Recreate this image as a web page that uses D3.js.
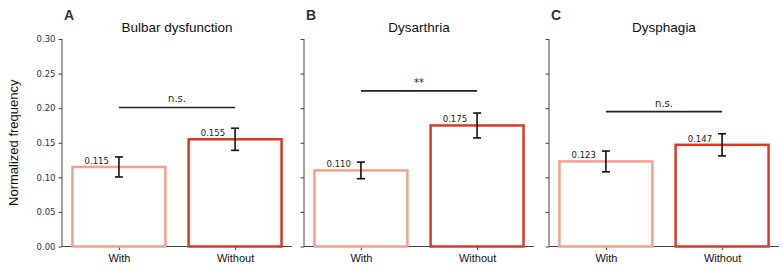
<!DOCTYPE html>
<html>
<head>
<meta charset="utf-8">
<script src="https://cdn.jsdelivr.net/npm/d3@7"></script>
<style>
  body { margin: 0; background: #fff; }
  svg { display: block; }
</style>
</head>
<body>
<div id="chart"></div>
<script>
// ---- data ----
const panels = ["A", "B", "C"];
const titles = ["Bulbar dysfunction", "Dysarthria", "Dysphagia"];
const groups = ["With", "Without"];
const means = [[0.115, 0.155], [0.110, 0.175], [0.123, 0.147]];
const errors = [[0.0145, 0.016], [0.012, 0.018], [0.015, 0.016]];
const sigLabels = ["n.s.", "**", "n.s."];
const sigLevels = [0.201, 0.225, 0.195];
const yTicks = [0, 0.05, 0.10, 0.15, 0.20, 0.25, 0.30];

const width = 783, height = 271;
const panelLeft = [62, 304, 549];
const panelWidth = 230;
const plotTop = 39, plotBottom = 246.5;
const colors = ["#f4a08e", "#d93a25"];
const axisColor = "#444";

const svg = d3.select("#chart").append("svg")
  .attr("width", width).attr("height", height);

const y = d3.scaleLinear().domain([0, 0.3]).range([plotBottom, plotTop]);

// shared y label
svg.append("text")
  .attr("transform", `translate(18,${(plotTop + plotBottom) / 2}) rotate(-90)`)
  .attr("text-anchor", "middle")
  .attr("font-family", "Liberation Sans, Arial, sans-serif")
  .attr("font-size", "13px")
  .attr("fill", "#111")
  .text("Normalized frequency");

panels.forEach((p, i) => {
  const x0 = panelLeft[i];
  // matplotlib-like positioning: bars at 0 and 1, width 0.8, 5% margins
  const x = d3.scaleLinear().domain([-0.49, 1.49]).range([x0, x0 + panelWidth]);
  const bw = x(0.8) - x(0);
  const g = svg.append("g");

  // axes (drawn first so bar edges sit on top)
  const yAxis = d3.axisLeft(y).tickValues(yTicks).tickSize(3.5).tickPadding(3)
    .tickFormat(i === 0 ? d3.format(".2f") : "");
  const ya = g.append("g").attr("transform", `translate(${x0},0)`).call(yAxis);
  const xAxis = d3.axisBottom(x).tickValues([0, 1]).tickSize(3.5).tickPadding(4)
    .tickFormat((d) => groups[d]);
  const xa = g.append("g").attr("transform", `translate(0,${plotBottom})`).call(xAxis);
  [ya, xa].forEach(a => {
    a.select(".domain").attr("stroke", axisColor).attr("stroke-width", 1);
    a.selectAll(".tick line").attr("stroke", axisColor);
  });
  ya.select(".domain").attr("d", `M-0,${plotBottom}V${plotTop}`);
  xa.select(".domain").attr("d", `M${x0},0H${x0 + panelWidth}`);
  ya.selectAll(".tick text").attr("font-family", "DejaVu Sans, sans-serif")
    .attr("font-size", "8.5px").attr("fill", "#333");
  xa.selectAll(".tick text").attr("font-family", "Liberation Sans, Arial, sans-serif")
    .attr("font-size", "11px").attr("fill", "#111");

  // bars
  g.selectAll("rect.bar")
    .data(groups)
    .join("rect")
    .attr("class", "bar")
    .attr("x", (d, j) => x(j - 0.4))
    .attr("width", bw)
    .attr("y", (d, j) => y(means[i][j]))
    .attr("height", (d, j) => y(0) - y(means[i][j]))
    .attr("fill", "#fff")
    .attr("stroke", (d, j) => colors[j])
    .attr("stroke-width", 2.5);

  // error bars
  groups.forEach((gname, j) => {
    const cx = x(j);
    const lo = y(means[i][j] - errors[i][j]);
    const hi = y(means[i][j] + errors[i][j]);
    g.append("line").attr("x1", cx).attr("x2", cx).attr("y1", lo).attr("y2", hi)
      .attr("stroke", "#111").attr("stroke-width", 1.6);
    [lo, hi].forEach(v => {
      g.append("line").attr("x1", cx - 4).attr("x2", cx + 4).attr("y1", v).attr("y2", v)
        .attr("stroke", "#111").attr("stroke-width", 1.6);
    });
    // value labels
    g.append("text")
      .attr("x", cx - 10)
      .attr("y", y(means[i][j]) - 3)
      .attr("text-anchor", "end")
      .attr("font-family", "DejaVu Sans, sans-serif")
      .attr("font-size", "8.5px")
      .attr("fill", "#222")
      .text(means[i][j].toFixed(3));
  });

  // significance line
  g.append("line")
    .attr("x1", x(0)).attr("x2", x(1))
    .attr("y1", y(sigLevels[i])).attr("y2", y(sigLevels[i]))
    .attr("stroke", "#222").attr("stroke-width", 1.6);
  g.append("text")
    .attr("x", (x(0) + x(1)) / 2)
    .attr("y", y(sigLevels[i]) - 5)
    .attr("text-anchor", "middle")
    .attr("font-family", "DejaVu Sans, sans-serif")
    .attr("font-size", "10px")
    .attr("fill", "#222")
    .text(sigLabels[i]);

  // title and panel letter
  g.append("text")
    .attr("x", x0 + panelWidth / 2)
    .attr("y", 32)
    .attr("text-anchor", "middle")
    .attr("font-family", "Liberation Sans, Arial, sans-serif")
    .attr("font-size", "13.5px")
    .attr("fill", "#111")
    .text(titles[i]);
  g.append("text")
    .attr("x", x0 + 2)
    .attr("y", 20)
    .attr("font-family", "Liberation Sans, Arial, sans-serif")
    .attr("font-weight", "bold")
    .attr("font-size", "14px")
    .attr("fill", "#333")
    .text(p);
});
</script>
</body>
</html>
